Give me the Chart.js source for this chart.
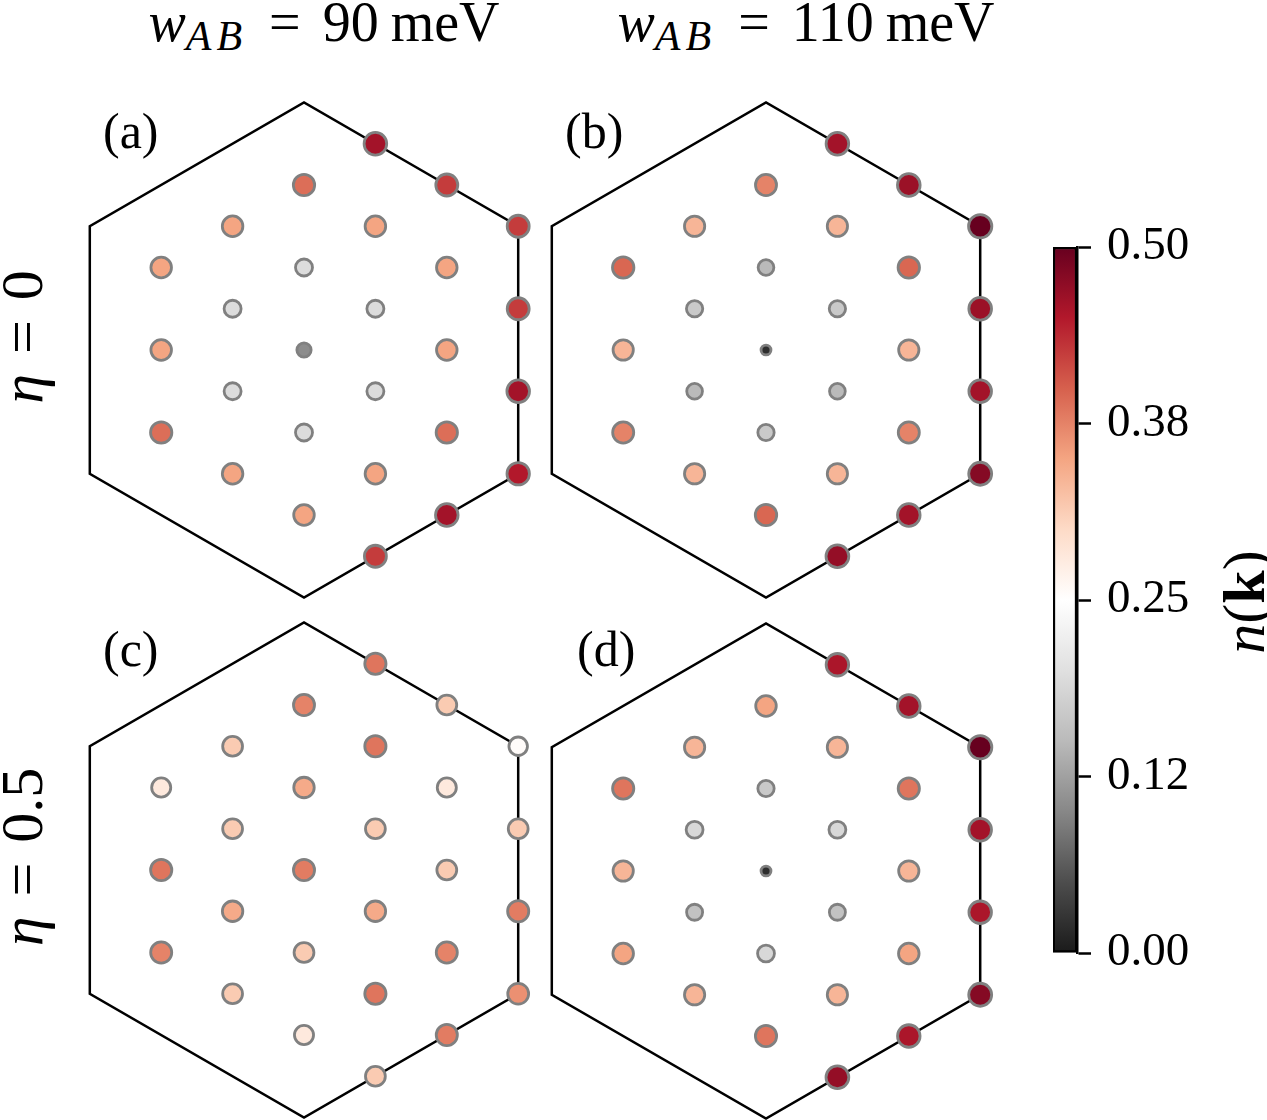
<!DOCTYPE html>
<html>
<head>
<meta charset="utf-8">
<script src="https://cdn.jsdelivr.net/npm/chart.js@4.4.0/dist/chart.umd.min.js"></script>
<style>
  body { margin: 0; background: #fff; font-family: "Liberation Serif", serif; }
  #fig { position: relative; width: 1267px; height: 1120px; overflow: hidden; }
  canvas { position: absolute; }
  .txt { position: absolute; white-space: nowrap; line-height: 1; color: #000; }
  .title { font-size: 56px; text-align: center; width: 500px; }
  .sub { font-size: 42px; position: relative; top: 9px; letter-spacing: 5px; }
  .eq { margin: 0 22px; }
  .th { display: inline-block; width: 12px; }
  .row { font-size: 60px; text-align: center; width: 300px; height: 60px; transform: rotate(-90deg); }
  .row .eq { margin: 0 20px; }
  .lab { font-size: 50px; }
</style>
</head>
<body>
<div id="fig">
  <canvas id="pa" width="480" height="540" style="left:64px;top:80px;width:480px;height:540px"></canvas>
  <canvas id="pb" width="480" height="540" style="left:526px;top:80px;width:480px;height:540px"></canvas>
  <canvas id="pc" width="480" height="540" style="left:64px;top:600px;width:480px;height:540px"></canvas>
  <canvas id="pd" width="480" height="540" style="left:526px;top:601px;width:480px;height:540px"></canvas>
  <canvas id="cb" width="227" height="800" style="left:1040px;top:200px;width:227px;height:800px"></canvas>

  <div class="txt title" style="left:74px;top:-6px"><i>w</i><i class="sub">AB</i><span class="eq">=</span>90<span class="th"></span>meV</div>
  <div class="txt title" style="left:556px;top:-6px"><i>w</i><i class="sub">AB</i><span class="eq">=</span>110<span class="th"></span>meV</div>

  <div class="txt row" style="left:-128px;top:307px"><i>η</i><span class="eq">=</span>0</div>
  <div class="txt row" style="left:-128px;top:827px"><i>η</i><span class="eq">=</span>0.5</div>

  <div class="txt lab" style="left:103px;top:106px">(a)</div>
  <div class="txt lab" style="left:565px;top:106px">(b)</div>
  <div class="txt lab" style="left:103px;top:624px">(c)</div>
  <div class="txt lab" style="left:577px;top:624px">(d)</div>

  <div class="txt row" style="left:1094px;top:572px"><i>n</i>(<b>k</b>)</div>
</div>

<script>
// k-points of the mesh (column, row in lattice units)
const kCol = [-2, -2, -2, -1, -1, -1, -1, 0, 0, 0, 0, 0, 1, 1, 1, 1, 1, 1, 2, 2, 2, 2, 2, 3, 3, 3, 3];
const kRow = [2, 0, -2, 3, 1, -1, -3, 4, 2, 0, -2, -4, 5, 3, 1, -1, -3, -5, 4, 2, 0, -2, -4, 3, 1, -1, -3];

// n(k) for each panel
const nA = [0.35, 0.35, 0.39, 0.35, 0.195, 0.195, 0.35, 0.39, 0.195, 0.105, 0.195, 0.35, 0.46, 0.35, 0.195, 0.195, 0.35, 0.425,
            0.425, 0.35, 0.35, 0.39, 0.46, 0.425, 0.425, 0.46, 0.45];
const nB = [0.395, 0.335, 0.375, 0.335, 0.17, 0.15, 0.335, 0.375, 0.15, 0.02, 0.17, 0.395, 0.46, 0.335, 0.17, 0.15, 0.335, 0.47,
            0.465, 0.395, 0.335, 0.375, 0.46, 0.5, 0.465, 0.46, 0.48];
const nC = [0.28, 0.385, 0.375, 0.315, 0.315, 0.345, 0.315, 0.375, 0.345, 0.38, 0.315, 0.28, 0.385, 0.385, 0.315, 0.345, 0.385, 0.315,
            0.315, 0.28, 0.315, 0.375, 0.38, 0.255, 0.315, 0.38, 0.365];
const nD = [0.385, 0.335, 0.35, 0.335, 0.19, 0.16, 0.335, 0.35, 0.17, 0.02, 0.19, 0.385, 0.455, 0.335, 0.19, 0.16, 0.335, 0.47,
            0.46, 0.385, 0.335, 0.35, 0.455, 0.5, 0.46, 0.455, 0.48];

// Brillouin zone corners (closed, last edge repeated so the top corner gets a join)
const bzCol = [0, 3, 3, 0, -3, -3, 0, 3];
const bzRow = [6, 3, -3, -6, -3, 3, 6, 3];

const cbarTicks = [0, 0.125, 0.25, 0.375, 0.5];
const cbarLabels = ["0.00", "0.12", "0.25", "0.38", "0.50"];
const vmax = 0.5;

// RdGy_r
const rdgy = ["#1a1a1a", "#4d4d4d", "#878787", "#bababa", "#e0e0e0", "#ffffff",
              "#fddbc7", "#f4a582", "#d6604d", "#b2182b", "#67001f"];

function hex2rgb(h) {
    return [1, 3, 5].map(i => parseInt(h.substr(i, 2), 16));
}

function cmap(t) {
    t = Math.min(1, Math.max(0, t));
    const p = t * (rdgy.length - 1);
    const i = Math.min(rdgy.length - 2, Math.floor(p));
    const f = p - i;
    const a = hex2rgb(rdgy[i]), b = hex2rgb(rdgy[i + 1]);
    const c = a.map((v, j) => Math.round(v + (b[j] - v) * f));
    return `rgb(${c[0]},${c[1]},${c[2]})`;
}

const XR = 240 / 71.4;
const YR = 270 / 41.25;

function drawPanel(id, vals) {
    new Chart(document.getElementById(id), {
        type: "scatter",
        data: {
            datasets: [
                {
                    data: kCol.map((x, i) => ({ x: x, y: kRow[i], n: vals[i] })),
                    pointBackgroundColor: c => c.raw ? cmap(c.raw.n / vmax) : "#fff",
                    pointBorderColor: "#808080",
                    pointBorderWidth: 2.8,
                    pointRadius: c => c.raw ? 3.3 + 11.8 * Math.sqrt(c.raw.n) : 0,
                    order: 1
                },
                {
                    data: bzCol.map((x, i) => ({ x: x, y: bzRow[i] })),
                    showLine: true,
                    borderColor: "#000",
                    borderWidth: 2.5,
                    borderJoinStyle: "miter",
                    pointRadius: 0,
                    fill: false,
                    order: 2
                }
            ]
        },
        options: {
            responsive: false,
            animation: false,
            events: [],
            layout: { padding: 0, autoPadding: false },
            plugins: { legend: { display: false }, tooltip: { enabled: false } },
            scales: {
                x: { type: "linear", display: false, min: -XR, max: XR },
                y: { type: "linear", display: false, min: -YR, max: YR }
            }
        }
    });
}

drawPanel("pa", nA);
drawPanel("pb", nB);
drawPanel("pc", nC);
drawPanel("pd", nD);

// colorbar
new Chart(document.getElementById("cb"), {
    type: "bar",
    data: {
        labels: [""],
        datasets: [{
            data: [[0, vmax]],
            backgroundColor: c => {
                const area = c.chart.chartArea;
                if (!area) return "#fff";
                const g = c.chart.ctx.createLinearGradient(0, area.bottom, 0, area.top);
                rdgy.forEach((col, i) => g.addColorStop(i / (rdgy.length - 1), col));
                return g;
            },
            borderColor: "#000",
            borderWidth: 2.5,
            borderSkipped: false,
            barPercentage: 1,
            categoryPercentage: 1
        }]
    },
    options: {
        responsive: false,
        animation: false,
        events: [],
        layout: { padding: { left: 13, top: 47, bottom: 47, right: 0 } },
        plugins: { legend: { display: false }, tooltip: { enabled: false } },
        scales: {
            x: { display: false },
            y: {
                position: "right",
                min: 0,
                max: vmax,
                afterBuildTicks: s => { s.ticks = cbarTicks.map(v => ({ value: v })); },
                afterFit: s => { s.width = 190; },
                ticks: {
                    callback: (v, i) => cbarLabels[i],
                    font: { family: "Liberation Serif", size: 47 },
                    color: "#000",
                    padding: 16
                },
                grid: { drawOnChartArea: false, drawTicks: true, tickLength: 14, tickWidth: 2.5, tickColor: "#000" },
                border: { display: true, color: "#000", width: 2.5 }
            }
        }
    }
});
</script>
</body>
</html>
